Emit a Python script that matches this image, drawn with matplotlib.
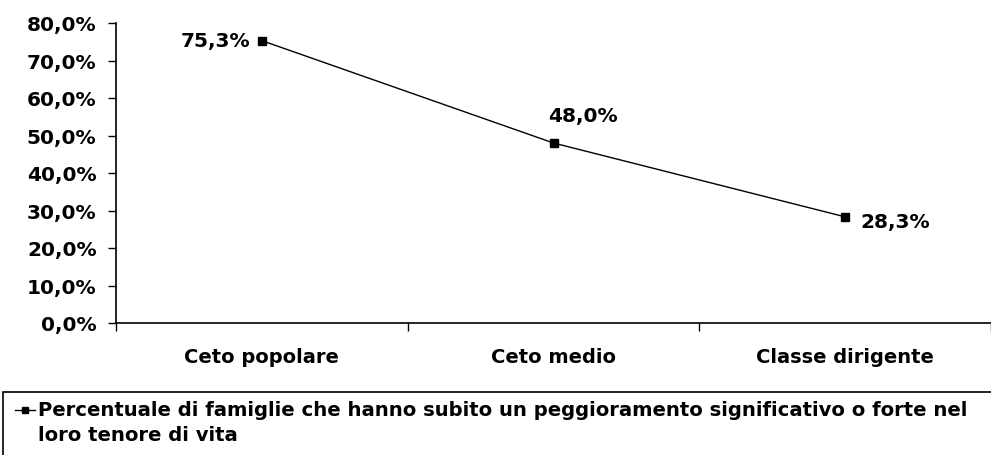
import matplotlib
matplotlib.use("Agg")
import matplotlib.pyplot as plt
from matplotlib.patches import Rectangle
from matplotlib.lines import Line2D

categories = ["Ceto popolare", "Ceto medio", "Classe dirigente"]
values = [75.3, 48.0, 28.3]
value_labels = ["75,3%", "48,0%", "28,3%"]
yticks = [0, 10, 20, 30, 40, 50, 60, 70, 80]
ytick_labels = ["0,0%", "10,0%", "20,0%", "30,0%", "40,0%", "50,0%", "60,0%", "70,0%", "80,0%"]
legend_text = "Percentuale di famiglie che hanno subito un peggioramento significativo o forte nel\nloro tenore di vita"

W, H = 991, 456
fig = plt.figure(figsize=(W / 100, H / 100), dpi=100)
fnt = dict(family=["DejaVu Sans"], fontweight="bold")

ax = fig.add_axes([116 / W, (H - 324) / H, (991 - 116) / W, 300 / H])
x = list(range(len(categories)))
ax.plot(x, values, color="black", lw=1.0, marker="s", ms=5.5, mfc="black", mec="black")
ax.set_xlim(-0.5, 2.5)
ax.set_ylim(0, 80)
ax.set_yticks(yticks)
ax.set_yticklabels(ytick_labels, fontsize=14.5, **fnt)
ax.set_xticks(x)
ax.set_xticklabels(categories, fontsize=14, **fnt)
ax.set_xticks([-0.5, 0.5, 1.5, 2.5], minor=True)
ax.tick_params(axis="x", which="major", length=0, pad=17)
ax.tick_params(axis="x", which="minor", length=6, direction="out", width=1)
ax.tick_params(axis="y", length=6, direction="out", width=1, pad=8)
for s in ["top", "right"]:
    ax.spines[s].set_visible(False)
ax.spines["left"].set_linewidth(1.2)
ax.spines["bottom"].set_linewidth(1.2)

ax.annotate(value_labels[0], (0, values[0]), xytext=(-8, 0), textcoords="offset points",
            ha="right", va="center", fontsize=14.5, **fnt)
ax.annotate(value_labels[1], (1, values[1]), xytext=(-4, 13), textcoords="offset points",
            ha="left", va="bottom", fontsize=14.5, **fnt)
ax.annotate(value_labels[2], (2, values[2]), xytext=(11, -3), textcoords="offset points",
            ha="left", va="center", fontsize=14.5, **fnt)

# legend box
fig.patches.append(Rectangle((3 / W, -0.01), 1.0, (H - 393) / H + 0.01, transform=fig.transFigure,
                             fill=False, edgecolor="black", lw=1.2))
fig.lines.append(Line2D([15 / W, 35 / W], [(H - 411) / H] * 2, transform=fig.transFigure,
                        color="black", lw=1.0))
fig.lines.append(Line2D([25 / W], [(H - 411) / H], transform=fig.transFigure,
                        color="black", marker="s", ms=5, lw=0))
fig.text(38 / W, (H - 401) / H, legend_text, ha="left", va="top", fontsize=14.1,
         linespacing=1.4, **fnt)

fig.savefig("out.png", dpi=100, facecolor="white")
